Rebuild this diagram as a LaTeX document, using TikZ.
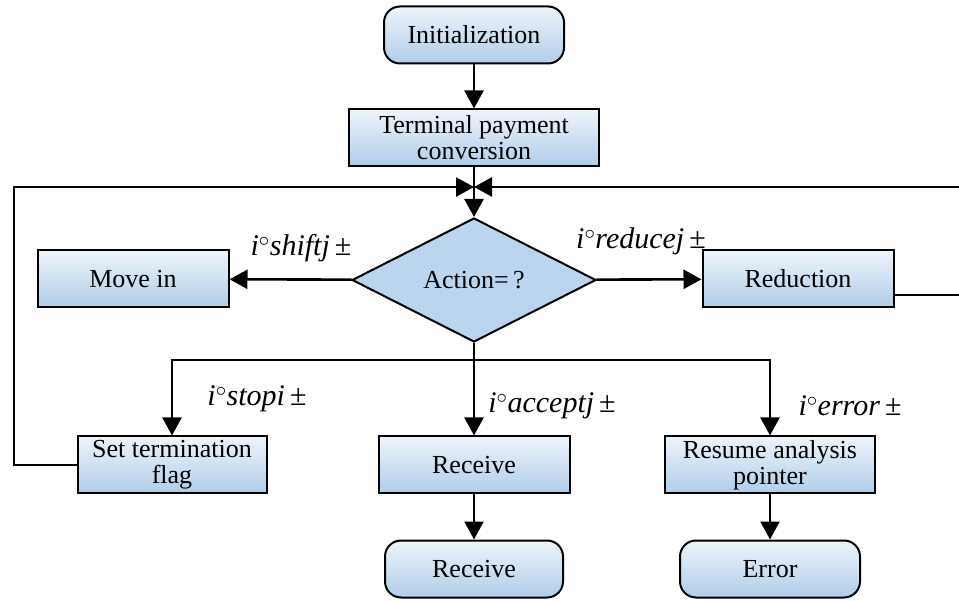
\documentclass[tikz,border=0pt]{standalone}
\usepackage{fontspec}
\setmainfont{Liberation Serif}
\usetikzlibrary{shapes.geometric,arrows.meta}
\definecolor{boxtop}{RGB}{238,244,251}
\definecolor{boxbot}{RGB}{176,205,233}
\definecolor{diafill}{RGB}{188,213,238}
\tikzset{
  flowline/.style={line width=2.6pt,-{Triangle[length=18pt,width=19pt]}},
  procbox/.style={draw,line width=2pt,top color=boxtop,bottom color=boxbot,
    minimum width=#1,minimum height=57pt,inner sep=0pt,align=center,
    font=\fontsize{26}{26}\selectfont},
  termbox/.style={procbox=#1,rounded corners=16pt},
  choice/.style={diamond,draw,line width=2pt,fill=diafill,inner sep=0pt,
    minimum width=244pt,minimum height=124pt,font=\fontsize{26}{26}\selectfont},
  condlabel/.style={inner sep=0pt,font=\fontsize{30}{30}\selectfont}
}
\newcommand{\cond}[1]{\textit{i}$^{\circ}$\textit{#1}\,±}

\begin{document}
\begin{tikzpicture}[x=1pt,y=-1pt]
\useasboundingbox (0,0) rectangle (959,601);
\clip (0,0) rectangle (959,601);
% top of the chart
\node[termbox=180pt] (init) at (474,35) {Initialization};
\node[procbox=250pt] (term) at (474,138) {Terminal payment\\conversion};
\node[choice] (dia) at (474,280) {Action=\,?};
% middle row
\node[procbox=191pt] (move) at (133,279) {Move in};
\node[procbox=191pt] (red) at (798,279) {Reduction};
% lower rows
\node[procbox=189pt] (flag) at (172,465) {Set termination\\flag};
\node[procbox=191pt] (recv) at (474,465) {Receive};
\node[procbox=210pt] (resume) at (770,465) {Resume analysis\\pointer};
\node[termbox=178pt] (recvend) at (474,569) {Receive};
\node[termbox=180pt] (err) at (770,569) {Error};
% branch labels
\node[condlabel] (lshift) at (301,248) {\cond{shiftj}};
\node[condlabel] (lreduce) at (641,241) {\cond{reducej}};
\node[condlabel] (lstop) at (257,399) {\cond{stopi}};
\node[condlabel] (laccept) at (552,406) {\cond{acceptj}};
\node[condlabel] (lerror) at (850,406) {\cond{error}};
% helper points
\coordinate (join) at (474,187);
\coordinate (split) at (474,360);
\coordinate (lcorner) at (14,187);
\coordinate (rcorner) at (964,187);
% connectors
\draw[flowline] (init) -- (term);
\draw[flowline] (term) -- (dia);
\draw[flowline] (dia) -- (move);
\draw[flowline] (dia) -- (red);
\draw[flowline] (dia) -- (recv);
\draw[flowline] (split) -| (flag);
\draw[flowline] (split) -| (resume);
\draw[flowline] (recv) -- (recvend);
\draw[flowline] (resume) -- (err);
% loops back to the decision
\draw[flowline] (flag.west) -| (lcorner) -- (join);
\draw[flowline] ([yshift=-16pt]red.east) -| (rcorner) -- (join);
\end{tikzpicture}
\end{document}
